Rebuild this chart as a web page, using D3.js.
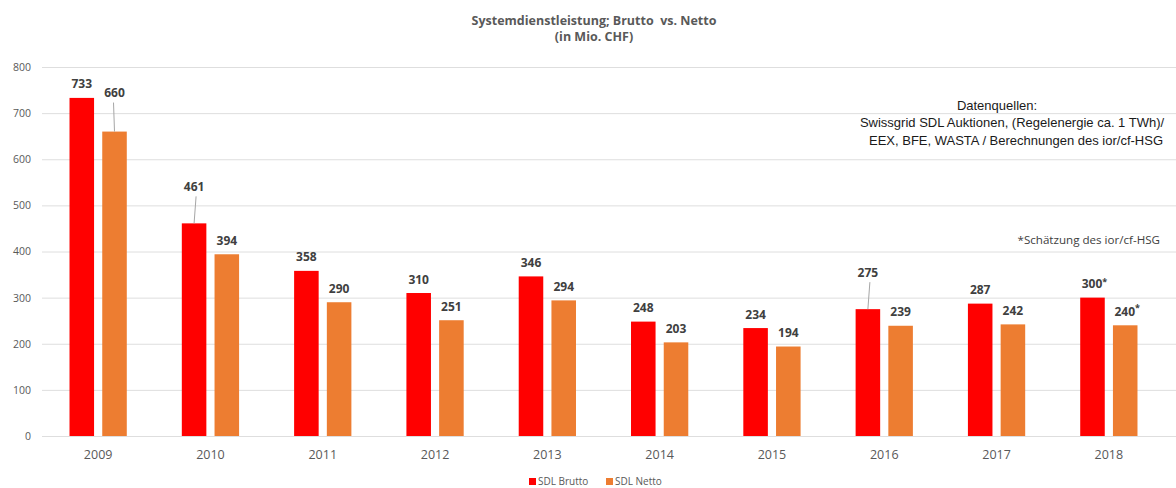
<!DOCTYPE html>
<html>
<head>
<meta charset="utf-8">
<script src="https://cdn.jsdelivr.net/npm/d3@7"></script>
<style>
  body { margin: 0; background: #fff; }
  svg { display: block; font-family: "Open Sans", sans-serif; }
</style>
</head>
<body>
<svg id="chart" width="1176" height="488"></svg>
<script>
// data
const years = ["2009", "2010", "2011", "2012", "2013", "2014", "2015", "2016", "2017", "2018"];
const brutto = [733, 461, 358, 310, 346, 248, 234, 275, 287, 300];
const netto = [660, 394, 290, 251, 294, 203, 194, 239, 242, 240];
const estimated = [false, false, false, false, false, false, false, false, false, true];
const seriesNames = ["SDL Brutto", "SDL Netto"];
const yTicks = [0, 100, 200, 300, 400, 500, 600, 700, 800];

const colors = ["#ff0000", "#ed7d31"];
const textGrey = "#595959";
const labelGrey = "#404040";

const svg = d3.select("#chart");

const margin = {top: 67, right: 10, bottom: 52, left: 42};
const width = 1176;
const height = 488;

const x0 = d3.scaleBand()
  .domain(years)
  .range([margin.left, width - 11])
  .paddingInner(0.49)
  .paddingOuter(0.245);

const x1 = d3.scaleBand()
  .domain(seriesNames)
  .range([0, x0.bandwidth()])
  .paddingInner(0.25)
  .paddingOuter(0);

const y = d3.scaleLinear()
  .domain([0, 800])
  .range([height - margin.bottom, margin.top]);

// gridlines
svg.append("g")
  .selectAll("line")
  .data(yTicks)
  .join("line")
    .attr("x1", margin.left)
    .attr("x2", width)
    .attr("y1", d => y(d) + 0.5)
    .attr("y2", d => y(d) + 0.5)
    .attr("stroke", "#dedede")
    .attr("stroke-width", 1);

// y axis labels
const yAxis = svg.append("g")
  .attr("transform", `translate(${margin.left - 11},0)`)
  .call(d3.axisLeft(y).tickValues(yTicks).tickSize(0).tickPadding(0));
yAxis.select(".domain").remove();
yAxis.selectAll("text")
  .attr("fill", textGrey)
  .style("font-size", "10.5px")
  .style("font-family", "Open Sans, sans-serif");

// x axis labels
const xAxis = svg.append("g")
  .attr("transform", `translate(0,${height - margin.bottom})`)
  .call(d3.axisBottom(x0).tickSize(0).tickPadding(14));
xAxis.select(".domain").remove();
xAxis.selectAll("text")
  .attr("fill", textGrey)
  .style("font-size", "12.5px")
  .style("font-family", "Open Sans, sans-serif");

// bars
const rows = years.map((yr, i) => ({
  year: yr,
  est: estimated[i],
  vals: [
    {key: seriesNames[0], value: brutto[i], s: 0, year: yr, est: estimated[i]},
    {key: seriesNames[1], value: netto[i], s: 1, year: yr, est: estimated[i]}
  ]
}));

const groups = svg.append("g")
  .selectAll("g")
  .data(rows)
  .join("g")
    .attr("transform", d => `translate(${x0(d.year)},0)`);

groups.selectAll("rect")
  .data(d => d.vals)
  .join("rect")
    .attr("x", d => x1(d.key))
    .attr("y", d => y(d.value))
    .attr("width", x1.bandwidth())
    .attr("height", d => y(0) - y(d.value))
    .attr("fill", d => colors[d.s]);

// labels that sit higher up with a leader line
const lifted = {"SDL Netto-2009": 39, "SDL Brutto-2010": 37, "SDL Brutto-2016": 37};

groups.each(function(row) {
  const g = d3.select(this);
  row.vals.forEach(d => {
    const cx = x1(d.key) + x1.bandwidth() / 2;
    const top = y(d.value);
    const lift = lifted[d.key + "-" + d.year];
    const cy = lift ? top - lift : top - 14;
    if (lift) {
      g.append("line")
        .attr("x1", cx - (d.s === 0 ? -2 : 1))
        .attr("x2", cx)
        .attr("y1", cy + 10)
        .attr("y2", top)
        .attr("stroke", "#a6a6a6")
        .attr("stroke-width", 1);
    }
    const t = g.append("text")
      .attr("x", cx + (d.est ? 2 : 0))
      .attr("y", cy + 4.5)
      .attr("text-anchor", "middle")
      .attr("fill", labelGrey)
      .style("font-size", "12px")
      .style("font-weight", "bold")
      .text(d.value);
    if (d.est) {
      t.append("tspan")
        .attr("dy", d.s === 0 ? -3 : -5)
        .style("font-size", "9px")
        .text("*");
    }
  });
});

// title
const title = svg.append("text")
  .attr("x", 594)
  .attr("text-anchor", "middle")
  .attr("fill", textGrey)
  .style("font-size", "12.5px")
  .style("font-weight", "bold");
title.append("tspan").attr("x", 594).attr("y", 25).text("Systemdienstleistung; Brutto  vs. Netto").style("white-space", "pre");
title.append("tspan").attr("x", 594).attr("y", 41).text("(in Mio. CHF)");

// sources note
const src = svg.append("text")
  .attr("fill", "#1a1a1a")
  .style("font-family", "Liberation Sans, Arial, sans-serif")
  .style("font-size", "13px")
  .attr("text-anchor", "middle");
src.append("tspan").attr("x", 997).attr("y", 110).text("Datenquellen:");
src.append("tspan").attr("x", 1012).attr("y", 127).text("Swissgrid SDL Auktionen, (Regelenergie ca. 1 TWh)/");
src.append("tspan").attr("x", 1016).attr("y", 145).text("EEX, BFE, WASTA / Berechnungen des ior/cf-HSG");

svg.append("text")
  .attr("x", 1160)
  .attr("y", 244)
  .attr("text-anchor", "end")
  .attr("fill", labelGrey)
  .style("font-size", "11.6px")
  .text("*Schätzung des ior/cf-HSG");

// legend
const legend = svg.append("g")
  .selectAll("g")
  .data(seriesNames)
  .join("g")
    .attr("transform", (d, i) => `translate(${i === 0 ? 529 : 606},0)`);
legend.append("rect")
  .attr("x", 0)
  .attr("y", 478)
  .attr("width", 7)
  .attr("height", 7)
  .attr("fill", (d, i) => colors[i]);
legend.append("text")
  .attr("x", 9)
  .attr("y", 485)
  .attr("fill", textGrey)
  .style("font-size", "10px")
  .text(d => d);
</script>
</body>
</html>
